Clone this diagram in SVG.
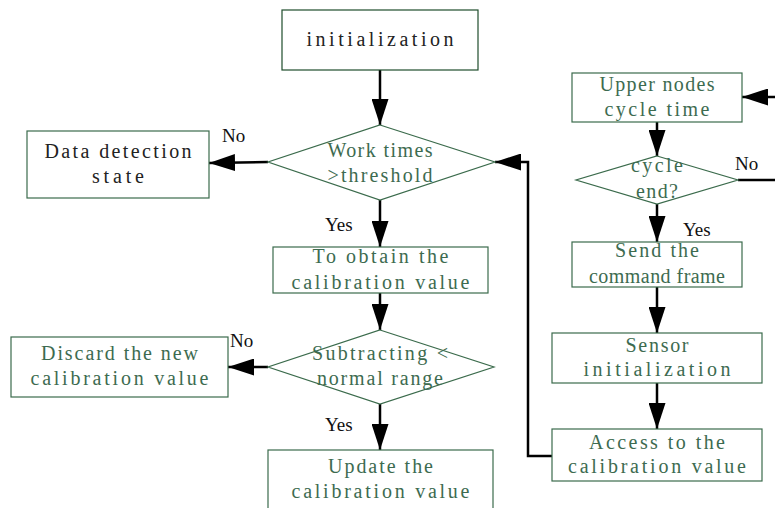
<svg xmlns="http://www.w3.org/2000/svg" width="775" height="508" viewBox="0 0 775 508">
<style>
.box{fill:#fff;stroke:#3b6b4c;stroke-width:1.2}
.dia{fill:#fff;stroke:#3b6b4c;stroke-width:1.2}
.t{font-family:"Liberation Serif","DejaVu Serif",serif;font-size:20px;text-anchor:middle;fill:#3d6b50}
.tk{font-family:"Liberation Serif","DejaVu Serif",serif;font-size:20px;text-anchor:middle;fill:#222}
.lbl{font-family:"Liberation Serif","DejaVu Serif",serif;font-size:19px;fill:#111}
.c{fill:none;stroke:#000;stroke-width:2.5}
</style>
<defs>
<marker id="ah" markerUnits="userSpaceOnUse" markerWidth="26" markerHeight="17" refX="26" refY="8.5" orient="auto">
<path d="M0,0 L26,8.5 L0,17 z" fill="#000"/>
</marker>
</defs>
<rect width="775" height="508" fill="#fff"/>
<g id="connectors">
<line class="c" x1="380" y1="70" x2="380" y2="125" marker-end="url(#ah)"/>
<line class="c" x1="268" y1="162" x2="209" y2="163" marker-end="url(#ah)"/>
<line class="c" x1="380" y1="200" x2="380" y2="247" marker-end="url(#ah)"/>
<line class="c" x1="380" y1="293" x2="380" y2="330" marker-end="url(#ah)"/>
<line class="c" x1="268" y1="367" x2="228" y2="367" marker-end="url(#ah)"/>
<line class="c" x1="380" y1="404" x2="380" y2="450" marker-end="url(#ah)"/>
<line class="c" x1="778" y1="97" x2="742" y2="97" marker-end="url(#ah)"/>
<line class="c" x1="657" y1="122" x2="657" y2="156" marker-end="url(#ah)"/>
<line class="c" x1="738" y1="180" x2="778" y2="180"/>
<line class="c" x1="657" y1="204" x2="657" y2="242" marker-end="url(#ah)"/>
<line class="c" x1="657" y1="287" x2="657" y2="333" marker-end="url(#ah)"/>
<line class="c" x1="657" y1="383" x2="657" y2="429" marker-end="url(#ah)"/>
<polyline class="c" points="552,456 528,456 528,162 495,162" marker-end="url(#ah)"/>
</g>
<g id="n-init">
<rect class="box" x="282" y="10" width="196" height="60" style="stroke:#1f4d2c"/>
<text class="tk" x="380" y="46" textLength="147" lengthAdjust="spacing">initialization</text>
</g>
<g id="n-work">
<polygon class="dia" points="380,125 495,162 380,200 268,162"/>
<text class="t" x="380" y="157" textLength="105" lengthAdjust="spacing">Work times</text>
<text class="t" x="380" y="182" textLength="105" lengthAdjust="spacing">&gt;threshold</text>
</g>
<g id="n-data">
<rect class="box" x="27" y="131" width="182" height="67"/>
<text class="tk" x="118" y="158" textLength="147" lengthAdjust="spacing">Data detection</text>
<text class="tk" x="118" y="183" textLength="52" lengthAdjust="spacing">state</text>
</g>
<g id="n-obtain">
<rect class="box" x="273" y="247" width="215" height="46"/>
<text class="t" x="380.5" y="263" textLength="136" lengthAdjust="spacing">To obtain the</text>
<text class="t" x="380.5" y="289" textLength="178" lengthAdjust="spacing">calibration value</text>
</g>
<g id="n-sub">
<polygon class="dia" points="380,330 494,367 380,404 268,367"/>
<text class="t" x="380" y="360" textLength="136" lengthAdjust="spacing">Subtracting &lt;</text>
<text class="t" x="380" y="385" textLength="126" lengthAdjust="spacing">normal range</text>
</g>
<g id="n-discard">
<rect class="box" x="11" y="337" width="217" height="60"/>
<text class="t" x="119.5" y="360" textLength="157" lengthAdjust="spacing">Discard the new</text>
<text class="t" x="119.5" y="385" textLength="178" lengthAdjust="spacing">calibration value</text>
</g>
<g id="n-update">
<rect class="box" x="268" y="450" width="225" height="70"/>
<text class="t" x="380.5" y="473" textLength="105" lengthAdjust="spacing">Update the</text>
<text class="t" x="380.5" y="498" textLength="178" lengthAdjust="spacing">calibration value</text>
</g>
<g id="n-upper">
<rect class="box" x="572" y="73" width="170" height="49"/>
<text class="t" x="657" y="91" textLength="115" lengthAdjust="spacing">Upper nodes</text>
<text class="t" x="657" y="116" textLength="105" lengthAdjust="spacing">cycle time</text>
</g>
<g id="n-cycle">
<polygon class="dia" points="657,156 738,180 657,204 576,180"/>
<text class="t" x="657" y="172" textLength="52" lengthAdjust="spacing">cycle</text>
<text class="t" x="657" y="198" textLength="42" lengthAdjust="spacing">end?</text>
</g>
<g id="n-send">
<rect class="box" x="572" y="242" width="170" height="45"/>
<text class="t" x="657" y="257" textLength="84" lengthAdjust="spacing">Send the</text>
<text class="t" x="657" y="283" textLength="136" lengthAdjust="spacing">command frame</text>
</g>
<g id="n-sensor">
<rect class="box" x="552" y="333" width="210" height="50"/>
<text class="t" x="657" y="352" textLength="63" lengthAdjust="spacing">Sensor</text>
<text class="t" x="657" y="376" textLength="147" lengthAdjust="spacing">initialization</text>
</g>
<g id="n-access">
<rect class="box" x="552" y="429" width="210" height="52"/>
<text class="t" x="657" y="449" textLength="136" lengthAdjust="spacing">Access to the</text>
<text class="t" x="657" y="473" textLength="178" lengthAdjust="spacing">calibration value</text>
</g>
<g id="labels">
<text class="lbl" x="222" y="142">No</text>
<text class="lbl" x="325" y="231">Yes</text>
<text class="lbl" x="230" y="347">No</text>
<text class="lbl" x="325" y="431">Yes</text>
<text class="lbl" x="735" y="170">No</text>
<text class="lbl" x="683" y="236">Yes</text>
</g>
</svg>
